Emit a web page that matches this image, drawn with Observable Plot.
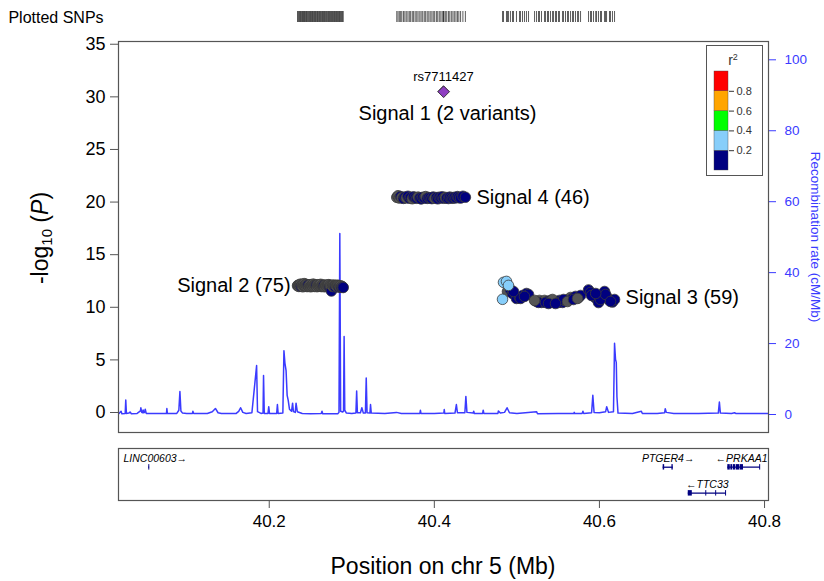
<!DOCTYPE html>
<html><head><meta charset="utf-8">
<script src="https://cdn.jsdelivr.net/npm/d3@7"></script>
<script src="https://cdn.jsdelivr.net/npm/@observablehq/plot@0.6"></script>
<style>
body{margin:0;background:#fff;}
#wrap{position:relative;width:824px;height:581px;font-family:"Liberation Sans",Arial,sans-serif;overflow:hidden;background:#fff;}
#wrap svg{position:absolute;overflow:visible;background:transparent;}
.lbl{position:absolute;white-space:nowrap;line-height:1;}
</style></head><body><div id="wrap"></div>
<script>
// ---------------- DATA ----------------
const pTicks = [0, 5, 10, 15, 20, 25, 30, 35];
const recTicks = [0, 20, 40, 60, 80, 100];
const xTicks = [40.2, 40.4, 40.6, 40.8];
const r2Breaks = [0.2, 0.4, 0.6, 0.8];
const r2Colors = ["#000080", "#87CEFA", "#00FF00", "#FFA500", "#FF0000"];
const naColor = "#555555";

// Signal 1 (lead, 2 variants)
const leadName = "rs7711427";
const sig1Pos = [40.4111, 40.4113];
const sig1LogP = [30.51, 30.48];

// Signal 2 (75)
const sig2Pos = [40.2343,40.2350,40.2359,40.2364,40.2372,40.2380,40.2385,40.2394,40.2401,40.2406,
40.2415,40.2423,40.2428,40.2437,40.2445,40.2451,40.2458,40.2467,40.2472,40.2480,
40.2489,40.2496,40.2502,40.2510,40.2518,40.2524,40.2533,40.2541,40.2547,40.2556,
40.2562,40.2570,40.2579,40.2585,40.2593,40.2601,40.2608,40.2616,40.2623,40.2631,
40.2640,40.2646,40.2655,40.2661,40.2670,40.2677,40.2685,40.2692,40.2700,40.2709,
40.2716,40.2722,40.2731,40.2738,40.2745,40.2753,40.2761,40.2768,40.2776,40.2784,
40.2790,40.2799,40.2806,40.2814,40.2821,40.2829,40.2836,40.2843,40.2851,40.2858,
40.2866,40.2873,40.2881,40.2889,40.2896];
const sig2LogP = [12.05,12.10,11.98,12.12,12.05,12.20,12.00,12.08,12.15,11.95,
12.10,12.25,12.05,12.02,12.18,12.10,11.97,12.06,12.12,12.00,
12.08,12.15,11.95,12.05,12.10,12.02,12.20,12.07,11.98,12.12,
12.04,12.09,11.96,12.14,12.06,12.00,12.11,12.03,12.18,11.97,
12.05,12.10,12.00,12.08,11.95,12.12,12.02,12.06,11.99,12.10,
12.04,12.15,11.96,12.08,12.01,11.55,12.06,11.98,12.12,12.03,
12.00,11.94,12.08,12.02,11.97,12.10,12.05,11.92,12.00,11.96,
12.04,11.90,11.98,11.93,11.88];
const sig2R2 = [null,null,null,null,null,null,0.15,null,null,null,
null,null,null,null,null,null,null,null,0.18,null,
null,null,null,null,null,null,null,null,null,null,
null,0.14,null,null,null,null,null,null,null,null,
null,null,null,0.16,null,null,null,null,null,null,
null,null,0.13,null,null,0.17,null,null,null,null,
null,0.15,null,null,null,null,null,0.19,null,null,
null,0.11,null,0.16,0.13];

// Signal 4 (46)
const sig4Pos = [40.3545,40.3560,40.3576,40.3592,40.3606,40.3626,40.3643,40.3660,40.3680,40.3697,
40.3713,40.3733,40.3749,40.3768,40.3787,40.3803,40.3824,40.3840,40.3859,40.3878,
40.3895,40.3914,40.3933,40.3950,40.3970,40.3987,40.4004,40.4025,40.4041,40.4060,
40.4079,40.4096,40.4115,40.4133,40.4150,40.4171,40.4187,40.4206,40.4225,40.4242,
40.4262,40.4280,40.4297,40.4318,40.4346,40.4376];
const sig4LogP = [20.45,20.60,20.38,20.52,20.42,20.35,20.48,20.40,20.55,20.37,
20.44,20.32,20.50,20.41,20.36,20.47,20.39,20.30,20.45,20.38,
20.52,20.35,20.43,20.40,20.33,20.48,20.37,20.42,20.31,20.46,
20.39,20.50,20.36,20.44,20.38,20.34,20.47,20.41,20.36,20.45,
20.40,20.52,20.43,20.38,20.55,20.46];
const sig4R2 = [null,null,null,0.10,null,0.12,0.08,null,0.15,0.10,
0.11,null,0.14,0.09,0.13,null,0.10,0.12,0.16,0.10,
null,0.11,0.13,0.10,0.15,0.12,null,0.09,0.14,0.11,
0.12,0.10,0.13,null,0.15,0.11,0.10,0.12,0.14,0.10,
0.13,0.11,0.15,0.12,0.10,0.14];

// Signal 3 (59)
const sig3Pos = [40.4838,40.4874,40.4898,40.4826,40.4886,40.4922,40.4947,40.4995,40.5032,40.5068,
40.5116,40.5141,40.5238,40.5274,40.5298,40.5335,40.5371,40.5407,40.5444,40.5480,
40.5516,40.5553,40.5589,40.5625,40.5650,40.5674,40.5710,40.5747,40.5771,40.5868,
40.5892,40.5928,40.5965,40.5989,40.6025,40.6062,40.6086,40.6122,40.6158,40.6183,
40.5262,40.5347,40.5432,40.5504,40.5565,40.5613,40.5686,40.5735,40.5044,40.5092,
40.4959,40.5904,40.6013,40.6074,40.6134,40.5955,40.5214,40.5383,40.5468];
const sig3LogP = [12.37,12.46,12.08,10.76,11.50,11.69,11.31,10.84,10.93,11.12,
11.31,11.22,10.55,10.65,10.46,10.65,10.55,10.65,10.46,10.55,
10.65,10.46,10.65,10.74,10.93,10.84,11.03,10.93,11.12,11.65,
11.41,11.05,10.80,10.45,10.93,11.50,11.03,10.65,10.50,10.74,
10.46,10.46,10.74,10.46,10.74,10.55,10.74,10.84,10.84,11.03,
11.50,11.12,10.74,11.22,10.55,11.31,10.65,10.36,10.36];
const sig3R2 = [0.30,0.32,0.28,0.25,null,0.10,0.12,0.10,0.15,0.10,
0.13,0.10,null,null,0.10,null,0.12,0.10,0.14,null,
0.10,0.11,null,0.10,null,0.13,0.10,0.12,0.10,0.10,
0.14,0.10,0.12,0.10,0.11,0.10,0.13,0.10,0.15,0.10,
0.10,0.10,null,0.10,0.12,null,0.10,null,0.10,0.10,
0.10,0.10,0.10,0.12,0.10,0.10,null,0.10,0.10];

// Recombination rate (cM/Mb)
const recPos = [40.0180,40.0205,40.0215,40.0255,40.0262,40.0270,40.0300,40.0314,40.0330,40.0400,
40.0440,40.0445,40.0455,40.0465,40.0472,40.0480,40.0490,40.0498,40.0510,40.0600,
40.0700,40.0755,40.0760,40.0766,40.0880,40.0905,40.0918,40.0930,40.0950,40.1000,
40.1070,40.1075,40.1085,40.1250,40.1310,40.1348,40.1380,40.1420,40.1600,40.1630,
40.1653,40.1680,40.1720,40.1790,40.1847,40.1858,40.1900,40.1925,40.1931,40.1940,
40.1985,40.1994,40.2003,40.2090,40.2099,40.2108,40.2165,40.2178,40.2190,40.2204,
40.2217,40.2230,40.2245,40.2270,40.2283,40.2293,40.2315,40.2325,40.2340,40.2400,
40.2500,40.2630,40.2639,40.2648,40.2830,40.2845,40.2855,40.2865,40.2890,40.2900,
40.2907,40.2915,40.2935,40.3000,40.3050,40.3059,40.3068,40.3105,40.3122,40.3140,
40.3165,40.3175,40.3185,40.3220,40.3227,40.3236,40.3400,40.3542,40.3600,40.3700,
40.3825,40.3831,40.3838,40.4000,40.4115,40.4120,40.4126,40.4250,40.4267,40.4280,
40.4370,40.4382,40.4395,40.4470,40.4477,40.4485,40.4585,40.4592,40.4600,40.4770,
40.4776,40.4800,40.4850,40.4881,40.4910,40.5000,40.5238,40.5250,40.5500,40.5690,
40.5695,40.5700,40.5790,40.5800,40.5810,40.5905,40.5920,40.5935,40.6000,40.6075,
40.6088,40.6110,40.6170,40.6183,40.6195,40.6204,40.6212,40.6225,40.6400,40.6508,
40.6520,40.6700,40.6790,40.6797,40.6810,40.6900,40.7200,40.7440,40.7453,40.7465,
40.7600,40.7637,40.7650,40.8040];
const recRate = [0.3,0.9,0.2,0.3,4.1,0.3,0.4,0.7,0.2,0.3,
1.0,1.9,0.6,0.5,1.3,0.5,0.6,1.5,0.3,0.3,
0.3,0.3,1.7,0.3,0.3,1.2,6.5,1.0,0.4,0.3,
0.3,0.9,0.3,0.3,0.8,1.7,0.5,0.3,0.3,0.9,
1.9,0.6,0.3,0.5,13.8,0.8,0.3,0.4,11.0,0.3,
0.3,2.2,0.3,0.3,2.8,0.3,0.4,18.0,14.5,12.4,
5.4,4.0,1.5,0.9,3.2,0.8,0.6,3.2,0.8,0.3,
0.2,0.3,0.9,0.2,0.2,0.6,51.0,0.9,0.7,1.0,
22.0,1.2,0.4,0.3,0.4,6.6,0.5,0.5,1.9,0.4,
0.4,10.3,0.5,0.4,2.8,0.4,0.3,0.6,0.3,0.3,
0.3,1.2,0.3,0.3,0.4,1.4,0.3,0.4,2.8,0.5,
0.5,5.1,0.6,0.4,0.9,0.3,0.3,1.2,0.3,0.3,
1.0,0.4,0.6,1.9,0.5,0.3,0.8,0.2,0.3,0.3,
0.6,0.3,0.3,0.9,0.3,0.5,5.4,0.6,0.5,0.8,
2.2,0.6,0.8,20.1,15.5,14.7,5.0,0.4,0.3,0.9,
0.3,0.3,0.5,1.6,0.6,0.3,0.3,0.4,3.5,0.4,
0.3,0.5,0.3,0.3];

// Genes
const geneNames = ["LINC00603", "PTGER4", "TTC33", "PRKAA1"];
const geneStart = [40.0541, 40.6772, 40.7076, 40.7555];
const geneEnd = [40.0551, 40.6894, 40.7538, 40.7951];
const geneStrand = ["+", "+", "-", "-"];
const geneRow = [0, 0, 1, 0];
const exonGene = ["LINC00603","PTGER4","PTGER4","TTC33","TTC33","TTC33","TTC33",
  "PRKAA1","PRKAA1","PRKAA1","PRKAA1","PRKAA1","PRKAA1"];
const exonStart = [40.0541,40.6772,40.6878,40.7076,40.7288,40.7408,40.7528,
  40.7555,40.7592,40.7622,40.7656,40.7706,40.7941];
const exonEnd = [40.0551,40.6790,40.6894,40.7125,40.7300,40.7420,40.7538,
  40.7585,40.7614,40.7648,40.7700,40.7745,40.7951];

// ---------------- BUILD ----------------
const X_DOMAIN = [40.0174, 40.8048];
const Y_DOMAIN = [-1.9, 35.26];
const REC_K = 0.3371, REC_B = -0.19;       // recombination axis ↔ -log10(P) axis
const toP = r => r * REC_K + REC_B;
const fromP = p => (p - REC_B) / REC_K;
const ldColor = d3.scaleThreshold().domain(r2Breaks).range(r2Colors);
const colorOf = r2 => (r2 == null ? naColor : ldColor(r2));
const FONT = "'Liberation Sans', Arial, Helvetica, sans-serif";
const BLUE = "#3b3bff";

function cluster(pos, lp, r2) { return pos.map((p, i) => ({pos: p, logp: lp[i], r2: r2[i]})); }
const sig2 = cluster(sig2Pos, sig2LogP, sig2R2);
const sig3 = cluster(sig3Pos, sig3LogP, sig3R2);
const sig4 = cluster(sig4Pos, sig4LogP, sig4R2);
// draw in data order, but higher-LD (r² ≥ 0.2) variants on top
const snps = [...sig2, ...sig4, ...sig3];
const snpsLow = snps.filter(d => d.r2 == null || d.r2 < r2Breaks[0]);
const snpsHigh = snps.filter(d => d.r2 != null && d.r2 >= r2Breaks[0]);
const lead = sig1Pos.map((p, i) => ({pos: p, logp: sig1LogP[i]}));
const rec = recPos.map((p, i) => ({pos: p, rate: recRate[i]}));
const allPos = [...sig1Pos, ...sig2Pos, ...sig4Pos, ...sig3Pos];

const mean = a => d3.mean(a, d => d.logp);
const sigLabels = [
  {text: "Signal 2 (75)", pos: d3.min(sig2, d => d.pos), logp: mean(sig2), side: "left"},
  {text: "Signal 4 (46)", pos: d3.max(sig4, d => d.pos), logp: mean(sig4), side: "right"},
  {text: "Signal 3 (59)", pos: d3.max(sig3, d => d.pos), logp: mean(sig3), side: "right"}
];
const sig1Label = [{text: "Signal 1 (2 variants)", pos: sig1Pos[0], logp: sig1LogP[0]}];
const leadLabel = [{text: leadName, pos: sig1Pos[0], logp: sig1LogP[0]}];

const wrap = document.getElementById("wrap");
function place(el, left, top) { el.style.left = left + "px"; el.style.top = top + "px"; wrap.appendChild(el); return el; }
function label(html, x, y, css, rot) {
  const d = document.createElement("div");
  d.className = "lbl";
  d.innerHTML = html;
  d.style.cssText += css;
  d.style.left = x + "px"; d.style.top = y + "px";
  d.style.transform = "translate(-50%,-50%)" + (rot ? ` rotate(${rot}deg)` : "");
  wrap.appendChild(d);
}

// Rug of plotted SNPs
const rug = Plot.plot({
  width: 824, height: 30, marginLeft: 118, marginRight: 56, marginTop: 11, marginBottom: 8,
  x: {domain: X_DOMAIN, axis: null},
  style: {fontFamily: FONT, background: "transparent"},
  marks: [Plot.tickX(allPos, {x: d => d, stroke: "#333", strokeWidth: 0.8})]
});
place(rug, 0, 0);

// Main association panel
const dotOpts = {x: "pos", y: "logp", fill: d => colorOf(d.r2), stroke: "#3a3a3a", strokeWidth: 0.8, r: 5.3};
const main = Plot.plot({
  width: 824, height: 445, marginLeft: 118, marginRight: 56, marginTop: 41, marginBottom: 13,
  x: {domain: X_DOMAIN, axis: null},
  y: {domain: Y_DOMAIN},
  style: {fontFamily: FONT, background: "transparent", color: "#000"},
  marks: [
    Plot.axisY({anchor: "left", ticks: pTicks, tickSize: 8, tickPadding: 5, fontSize: 18,
      stroke: "#555", fill: "#000", label: null, tickFormat: d => d}),
    Plot.axisY({anchor: "right", ticks: recTicks.map(toP), tickSize: 7, tickPadding: 9, fontSize: 13.5,
      stroke: BLUE, fill: BLUE, label: null, tickFormat: d => String(Math.round(fromP(d)))}),
    Plot.line(rec, {x: "pos", y: d => toP(d.rate), stroke: BLUE, strokeWidth: 1.5}),
    Plot.dot(snpsLow, dotOpts),
    Plot.dot(snpsHigh, dotOpts),
    Plot.dot(lead, {x: "pos", y: "logp", symbol: "diamond2", fill: "#8e3ec2", stroke: "#333", strokeWidth: 0.8, r: 5.2}),
    Plot.text(leadLabel, {x: "pos", y: "logp", text: "text", dy: -15, fontSize: 13, fill: "#000"}),
    Plot.text(sig1Label, {x: "pos", y: "logp", text: "text", dy: 22, dx: 4, fontSize: 20, fill: "#000"}),
    Plot.text(sigLabels.filter(d => d.side === "left"), {x: "pos", y: "logp", text: "text", textAnchor: "end", dx: -7, fontSize: 20, fill: "#000"}),
    Plot.text(sigLabels.filter(d => d.side === "right"), {x: "pos", y: "logp", text: "text", textAnchor: "start", dx: 11, fontSize: 20, fill: "#000"}),
    Plot.frame({stroke: "#555", strokeWidth: 1.2})
  ]
});
place(main, 0, 0);

// r² legend
const legendBins = r2Colors.map((c, i) => ({lo: i === 0 ? 0 : r2Breaks[i - 1], hi: i < r2Breaks.length ? r2Breaks[i] : 1, color: c}));
const legend = Plot.plot({
  width: 55, height: 129, marginLeft: 7, marginRight: 34, marginTop: 25, marginBottom: 5,
  x: {domain: [0, 1], axis: null},
  y: {domain: [0, 1], axis: null},
  style: {fontFamily: FONT, background: "#fff"},
  marks: [
    Plot.rect(legendBins, {x1: 0, x2: 1, y1: "lo", y2: "hi", fill: "color", stroke: "#444", strokeWidth: 0.4}),
    Plot.axisY({anchor: "right", ticks: r2Breaks, tickSize: 5, tickPadding: 3, fontSize: 11,
      stroke: "#333", fill: "#333", label: null, tickFormat: d3.format(".1f")})
  ]
});
legend.style.outline = "1.2px solid #555";
place(legend, 707, 46);
label("r<sup style='font-size:9px'>2</sup>", 733, 60, "font-size:14px;color:#333;");

// Gene panel + x axis
const genes = geneNames.map((g, i) => ({name: g, start: geneStart[i], end: geneEnd[i], strand: geneStrand[i], row: geneRow[i]}));
const rowOf = Object.fromEntries(genes.map(g => [g.name, g.row]));
const exons = exonGene.map((g, i) => ({gene: g, start: exonStart[i], end: exonEnd[i]}));
const gtext = g => g.strand === "+" ? g.name + "\u2192" : "\u2190" + g.name;
const nearLeft = g => g.start < 40.07;
const nearRight = g => g.end > 40.79;
const centred = g => !nearLeft(g) && !nearRight(g);
const GENE = "#000080";
const gText = {y: d => d.row + 0.5, text: gtext, lineAnchor: "bottom", fontStyle: "italic", fontSize: 10.5, fill: "#000"};
const genePlot = Plot.plot({
  width: 824, height: 141, marginLeft: 118, marginRight: 56, marginTop: 8, marginBottom: 81,
  x: {domain: X_DOMAIN},
  y: {domain: [0, 2], reverse: true, axis: null},
  style: {fontFamily: FONT, background: "transparent", color: "#000"},
  marks: [
    Plot.ruleY(genes, {x1: "start", x2: "end", y: d => d.row + 0.72, stroke: GENE, strokeWidth: 1.3}),
    Plot.rect(exons, {x1: "start", x2: d => Math.max(d.end, d.start + 0.0012), y1: d => rowOf[d.gene] + 0.62, y2: d => rowOf[d.gene] + 0.83, fill: GENE}),
    Plot.text(genes.filter(centred), {...gText, x: d => (d.start + d.end) / 2}),
    Plot.text(genes.filter(nearLeft), {...gText, x: () => X_DOMAIN[0], textAnchor: "start", dx: 5}),
    Plot.text(genes.filter(nearRight), {...gText, x: () => X_DOMAIN[1], textAnchor: "end", dx: -1}),
    Plot.axisX({ticks: xTicks, tickSize: 8, tickPadding: 6, fontSize: 17, stroke: "#555", fill: "#000", label: null, tickFormat: d3.format(".1f")}),
    Plot.frame({stroke: "#555", strokeWidth: 1.2})
  ]
});
place(genePlot, 0, 440);

// Titles
label("Plotted SNPs", 56, 18, "font-size:16px;color:#000;");
label("-log<sub style='font-size:15px;vertical-align:-4px'>10</sub> (<i>P</i>)", 41, 238, "font-size:23px;color:#000;", -90);
label("Recombination rate (cM/Mb)", 815, 237, "font-size:13.5px;color:" + BLUE + ";", 90);
label("Position on chr 5 (Mb)", 443, 566, "font-size:23px;color:#000;");
</script></body></html>
